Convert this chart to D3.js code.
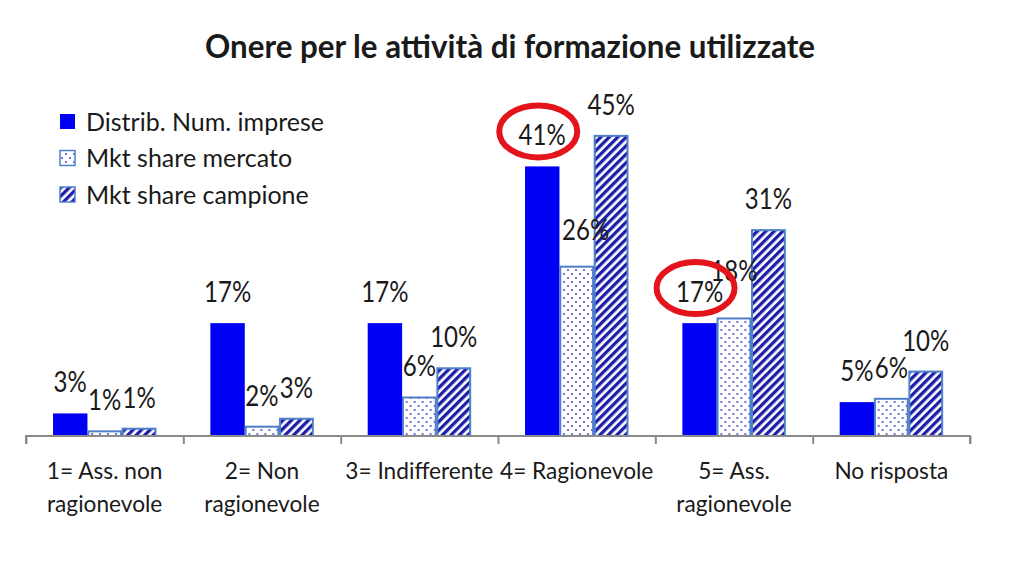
<!DOCTYPE html>
<html><head><meta charset="utf-8">
<script src="https://cdn.jsdelivr.net/npm/d3@7"></script>
<style>html,body{margin:0;padding:0;background:#fff;}svg{display:block;}text{font-family:Lato,"Open Sans",sans-serif;fill:#1a1a1a;}</style>
</head><body>
<svg id="c" width="1024" height="564"></svg>
<script>
const title = "Onere per le attività di formazione utilizzate";
const categories = [["1= Ass. non","ragionevole"],["2= Non","ragionevole"],["3= Indifferente"],["4= Ragionevole"],["5= Ass.","ragionevole"],["No risposta"]];
const seriesNames = ["Distrib. Num. imprese","Mkt share mercato","Mkt share campione"];
const distribValues = [3.4, 17, 17, 40.6, 17, 5.1];
const mercatoValues = [0.7, 1.4, 5.8, 25.5, 17.7, 5.6];
const campioneValues = [1.1, 2.6, 10.2, 45.2, 31, 9.7];
const distribLabels = ["3%","17%","17%","41%","17%","5%"];
const mercatoLabels = ["1%","2%","6%","26%","18%","6%"];
const campioneLabels = ["1%","3%","10%","45%","31%","10%"];
const highlighted = [[3,0],[4,0]]; // [category index, series index]

const values = [distribValues, mercatoValues, campioneValues];
const labels = [distribLabels, mercatoLabels, campioneLabels];
// manual label nudges (styling), keyed "series-category"
const nudge = {"1-3":[9,-6], "1-4":[0,-16]};
const svg = d3.select("#c");
const SX = 0.86;

const defs = svg.append("defs");
const dots = defs.append("pattern").attr("id","dots").attr("patternUnits","userSpaceOnUse").attr("width",8).attr("height",8);
dots.append("rect").attr("width",8).attr("height",8).attr("fill","#fff");
dots.append("circle").attr("cx",2).attr("cy",2).attr("r",1.1).attr("fill","#5656d6");
dots.append("circle").attr("cx",6).attr("cy",6).attr("r",1.1).attr("fill","#5656d6");
const stripes = defs.append("pattern").attr("id","stripes").attr("patternUnits","userSpaceOnUse").attr("width",6).attr("height",6).attr("patternTransform","rotate(45)");
stripes.append("rect").attr("width",6).attr("height",6).attr("fill","#fff");
stripes.append("rect").attr("width",3.3).attr("height",6).attr("fill","#1e1ea8");
const fills = ["#0000f5","url(#dots)","url(#stripes)"];
const strokes = ["none","#4f7fcc","#4f7fcc"];

function txt(parent, x, y, s, size, anchor, weight, sx) {
  const g = parent.append("g").attr("transform", `translate(${x},${y})`);
  return g.append("text").attr("transform", `scale(${sx||SX},1)`).attr("text-anchor", anchor||"middle")
    .attr("font-size", size).attr("font-weight", weight||"normal").text(s);
}

// title
const t = txt(svg, 510, 58, title, 33, "middle", "bold", 1);
const tw = t.node().getComputedTextLength();
t.attr("transform", `scale(${610/tw},1)`);

const x0 = d3.scaleBand().domain(d3.range(categories.length)).range([26, 970]).paddingInner(0).paddingOuter(0);
const x1 = d3.scaleBand().domain(d3.range(seriesNames.length)).range([0, x0.bandwidth()]).paddingInner(0).paddingOuter(0.785);
const y = d3.scaleLinear().domain([0, 50]).range([436, 104]);

const groups = svg.append("g").selectAll("g").data(categories).join("g").attr("transform",(d,i)=>`translate(${x0(i)},0)`);
groups.each(function(cat, ci) {
  const g = d3.select(this);
  values.forEach((vals, si) => {
    const v = vals[ci];
    g.append("rect").attr("x", x1(si)+(si?0.8:0)).attr("width", x1.bandwidth()-(si?1.6:0))
      .attr("y", y(v)).attr("height", y(0)-y(v))
      .attr("fill", fills[si]).attr("stroke", strokes[si]).attr("stroke-width", 2);
  });
  values.forEach((vals, si) => {
    const n = nudge[si+"-"+ci] || [0,0];
    txt(g, x1(si)+x1.bandwidth()/2 + n[0], y(vals[ci]) - 21 + n[1], labels[si][ci], 28, "middle");
  });
});

// axis
const axis = d3.axisBottom(d3.scaleLinear().domain([0, categories.length]).range([26, 970]))
  .ticks(categories.length).tickSize(8).tickFormat("");
const ag = svg.append("g").attr("transform","translate(0,436)").call(axis);
ag.selectAll("path,line").attr("stroke","#8a8a8a").attr("stroke-width",2);
ag.select(".domain").attr("d","M26,8V0H970V8");

// category labels
categories.forEach((lines, ci) => {
  lines.forEach((l, li) => {
    txt(svg, x0(ci)+x0.bandwidth()/2, 479 + li*33, l, 24, "middle", "normal", 0.945);
  });
});

// highlight ellipses
highlighted.forEach(([ci, si]) => {
  const cx = x0(ci)+x1(si)+x1.bandwidth()/2 - 4;
  const cy = y(values[si][ci]) - 21 - 14;
  svg.append("ellipse").attr("cx",cx).attr("cy",cy).attr("rx",39).attr("ry",26)
    .attr("fill","none").attr("stroke","#e3141b").attr("stroke-width",6);
});

// legend
const lg = svg.append("g");
seriesNames.forEach((n, i) => {
  const cy = 121.5 + i*36.5;
  lg.append("rect").attr("x",60).attr("y",cy-7.5).attr("width",15).attr("height",15)
    .attr("fill",fills[i]).attr("stroke",strokes[i]).attr("stroke-width",1.5);
  txt(lg, 86, cy+9, n, 25, "start", "normal", 1);
});
</script>
</body></html>
